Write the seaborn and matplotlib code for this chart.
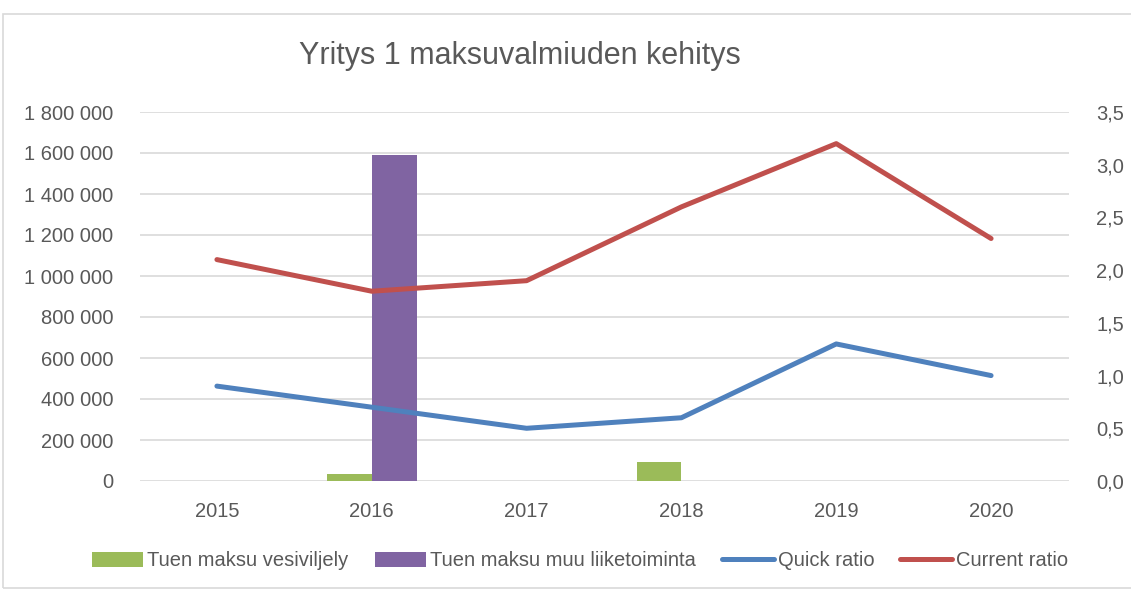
import matplotlib
matplotlib.use("Agg")
import matplotlib.pyplot as plt
import matplotlib.ticker as mticker
from matplotlib.patches import Rectangle
from matplotlib.lines import Line2D
from matplotlib.patches import Patch
import seaborn as sns
import pandas as pd

years = ["2015", "2016", "2017", "2018", "2019", "2020"]
tuki_vesiviljely = [0, 35000, 0, 95000, 0, 0]
tuki_muu = [0, 1590000, 0, 0, 0, 0]
quick_ratio = [0.9, 0.7, 0.5, 0.6, 1.3, 1.0]
current_ratio = [2.1, 1.8, 1.9, 2.6, 3.2, 2.3]
bar_names = ["Tuen maksu vesiviljely", "Tuen maksu muu liiketoiminta"]
line_names = ["Quick ratio", "Current ratio"]
title = "Yritys 1 maksuvalmiuden kehitys"

GREEN, PURPLE, BLUE, RED = "#9BBB59", "#8064A2", "#4F81BD", "#C0504D"
TXT = "#595959"
GRID = "#D9D9D9"

sns.set_theme(style="white")
plt.rcParams["font.family"] = ["Liberation Sans", "DejaVu Sans"]

bars = pd.DataFrame({
    "year": years * 2,
    "series": [bar_names[0]] * len(years) + [bar_names[1]] * len(years),
    "value": tuki_vesiviljely + tuki_muu,
})
lines = pd.DataFrame({
    "x": list(range(len(years))) * 2,
    "series": [line_names[0]] * len(years) + [line_names[1]] * len(years),
    "value": quick_ratio + current_ratio,
})

fig = plt.figure(figsize=(11.31, 5.90), dpi=100)
ax = fig.add_axes([139.5 / 1131, 1 - 481 / 590, 929 / 1131, 369 / 590])

sns.barplot(data=bars, x="year", y="value", hue="series", order=years,
            hue_order=bar_names, palette=[GREEN, PURPLE], width=0.58,
            saturation=1, ax=ax, legend=False, linewidth=0)
ax.set_xlim(-0.5, 5.5)
ax.set_ylim(0, 1800000)
ax.yaxis.set_major_locator(mticker.MultipleLocator(200000))
ax.yaxis.set_major_formatter(mticker.FuncFormatter(lambda v, p: f"{int(round(v)):,}".replace(",", " ")))
ax.grid(axis="y", color=GRID, linewidth=1.2)
ax.set_axisbelow(True)
for s in ax.spines.values():
    s.set_visible(False)
ax.set_xlabel("")
ax.set_ylabel("")
ax.tick_params(axis="both", length=0, labelsize=14.5, labelcolor=TXT)
ax.tick_params(axis="x", pad=15)
ax.tick_params(axis="y", pad=19)

ax2 = ax.twinx()
sns.lineplot(data=lines, x="x", y="value", hue="series", hue_order=line_names,
             palette=[BLUE, RED], linewidth=3.6, ax=ax2, legend=False)
for l in ax2.lines:
    l.set_solid_capstyle("round")
    l.set_solid_joinstyle("round")
ax2.set_xlim(-0.5, 5.5)
ax2.set_ylim(0, 3.5)
ax2.yaxis.set_major_locator(mticker.MultipleLocator(0.5))
ax2.yaxis.set_major_formatter(mticker.FuncFormatter(lambda v, p: f"{v:.1f}".replace(".", ",")))
for s in ax2.spines.values():
    s.set_visible(False)
ax2.set_xlabel("")
ax2.set_ylabel("")
ax2.tick_params(axis="y", length=0, labelsize=14.5, labelcolor=TXT, pad=20)
ax2.grid(False)

fig.text(520 / 1131, 1 - 56 / 590, title, ha="center", va="center", fontsize=22, color=TXT)

handles = [Patch(facecolor=GREEN, edgecolor="none"), Patch(facecolor=PURPLE, edgecolor="none"),
           Line2D([], [], color=BLUE, linewidth=3.6, solid_capstyle="round"),
           Line2D([], [], color=RED, linewidth=3.6, solid_capstyle="round")]
fig.legend(handles, bar_names + line_names, loc="center", bbox_to_anchor=(580 / 1131, 1 - 561 / 590),
           ncol=4, frameon=False, fontsize=14.5, labelcolor=TXT, handlelength=2.55,
           handletextpad=0.2, columnspacing=1.3, handleheight=0.8)

fig.patches.append(Rectangle((3 / 1131, 2 / 590), 1.2, 574 / 590, transform=fig.transFigure,
                             fill=False, edgecolor=GRID, linewidth=1.2))

fig.savefig("out.png", dpi=100, facecolor="white")
